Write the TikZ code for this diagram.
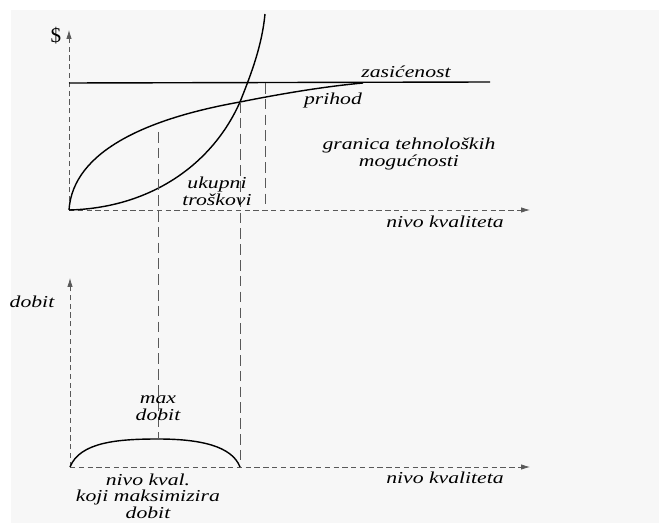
\documentclass[tikz,border=0pt]{standalone}
\usepackage{fontspec}
\setmainfont{Liberation Serif}
\newfontfamily\scanfont[FakeStretch=1.3]{Liberation Serif}
\usetikzlibrary{arrows.meta}
\definecolor{paper}{HTML}{F7F7F7}
\begin{document}
\begin{tikzpicture}[
    x=0.02cm, y=-0.02cm,
    axis/.style={densely dashed, gray!70!black, -{Latex[length=5pt,width=3pt]}},
    guide/.style={dash pattern=on 6pt off 3pt, gray!70!black, thin},
    curve/.style={thick, black},
    lbl/.style={font=\scanfont\fontsize{9.5}{9.5}\selectfont\itshape, align=center, inner sep=1pt}
]
    \useasboundingbox (0,0) rectangle (659,523);
    \fill[paper] (11,10) rectangle (659,523);

    % upper graph
    \coordinate (O1) at (69,210);
    \coordinate (ytop) at (69,30);
    \coordinate (xend1) at (530,210);
    \coordinate (cross) at (240,102);
    \coordinate (satL) at (69,83);
    \coordinate (satR) at (490,82);
    \coordinate (revEnd) at (363,83);
    \coordinate (costTop) at (265,14);

    \draw[axis] (O1) -- (ytop);
    \draw[axis] (O1) -- (xend1);
    \draw[thick] (satL) -- (satR);

    % prihod
    \draw[curve] (O1) .. controls (73,150) and (150,118) .. (cross)
        .. controls (290,92) and (330,86) .. (revEnd);
    % ukupni troskovi
    \draw[curve] (O1) .. controls (150,208) and (212,165) .. (cross)
        .. controls (252,72) and (262,45) .. (costTop);

    % lower graph
    \coordinate (O2) at (70,467);
    \coordinate (ytop2) at (70,278);
    \coordinate (xend2) at (530,467);
    \coordinate (peak) at (158,439);
    \coordinate (zero2) at (240,467);

    \draw[axis] (O2) -- (ytop2);
    \draw[axis] (O2) -- (xend2);
    \draw[curve] (O2) .. controls (80,442) and (118,439) .. (peak)
        .. controls (200,439) and (232,446) .. (zero2);

    % guides
    \coordinate (g1top) at (158,132);
    \coordinate (g3top) at (265,83);
    \coordinate (g3bot) at (265,207);
    \draw[guide] (g1top) -- (peak);
    \draw[guide] (cross) -- (zero2);
    \draw[guide] (g3top) -- (g3bot);

    % labels
    \node[font=\fontsize{12}{12}\selectfont] (dollar) at (56,36) {\$};
    \node[lbl] (zas) at (406,72) {zasićenost};
    \node[lbl] (prih) at (333,100) {prihod};
    \node[lbl] (gran) at (409,154) {granica tehnoloških\\mogućnosti};
    \node[lbl] (ukup) at (217,191) {ukupni\\troškovi};
    \node[lbl] (nk1) at (445,222) {nivo kvaliteta};
    \node[lbl] (dob) at (32,302) {dobit};
    \node[lbl] (maxd) at (158,408) {max\\dobit};
    \node[lbl] (nk2) at (445,478) {nivo kvaliteta};
    \node[lbl] (nkm) at (148,496) {nivo kval.\\koji maksimizira\\dobit};
\end{tikzpicture}
\end{document}
